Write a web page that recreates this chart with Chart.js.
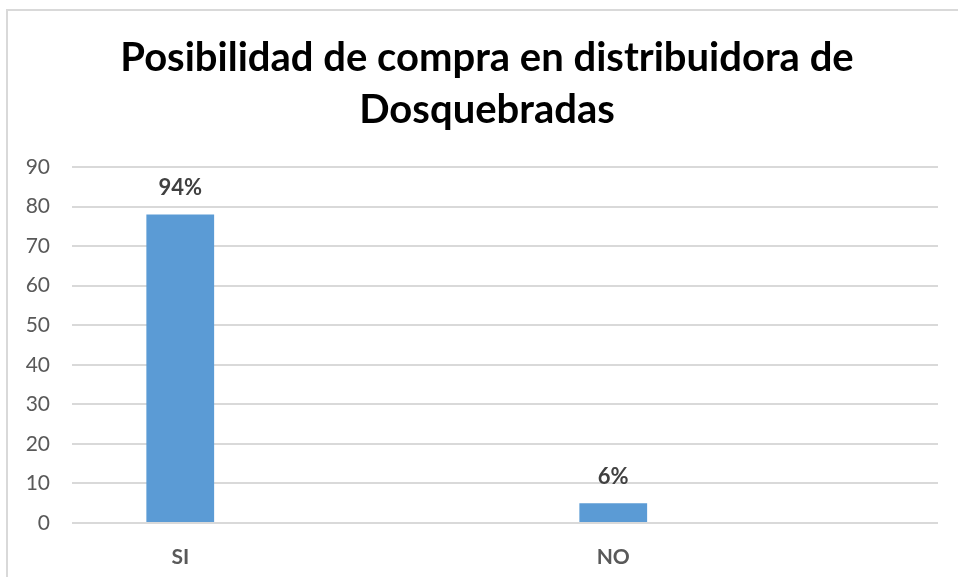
<!DOCTYPE html>
<html>
<head>
<meta charset="utf-8">
<script src="https://cdn.jsdelivr.net/npm/chart.js@4/dist/chart.umd.min.js"></script>
<style>
  html, body { margin: 0; padding: 0; background: #fff; }
  #wrap { width: 958px; height: 577px; position: relative; }
</style>
</head>
<body>
<div id="wrap"><canvas id="c" width="958" height="577"></canvas></div>
<script>
const categories = ["SI", "", "NO", ""];
const values = [78, null, 5, null];
const valueLabels = ["94%", "", "6%", ""];
const yTicks = [0, 10, 20, 30, 40, 50, 60, 70, 80, 90];
const titleLines = ["Posibilidad de compra en distribuidora de", "Dosquebradas"];

const FONT = 'Lato, "Open Sans", sans-serif';

const borderPlugin = {
  id: 'outerBorder',
  beforeDraw(chart) {
    const ctx = chart.ctx;
    ctx.save();
    ctx.fillStyle = '#ffffff';
    ctx.fillRect(0, 0, chart.width, chart.height);
    ctx.strokeStyle = '#d9d9d9';
    ctx.lineWidth = 2;
    ctx.beginPath();
    ctx.moveTo(7, chart.height);
    ctx.lineTo(7, 10);
    ctx.lineTo(chart.width, 10);
    ctx.stroke();
    ctx.restore();
  }
};

const titlePlugin = {
  id: 'customTitle',
  afterDraw(chart) {
    const ctx = chart.ctx;
    ctx.save();
    ctx.font = 'bold 40px ' + FONT;
    ctx.fillStyle = '#000000';
    ctx.textAlign = 'center';
    ctx.textBaseline = 'middle';
    const cx = 487;
    const ys = [58, 110];
    titleLines.forEach((t, i) => ctx.fillText(t, cx, ys[i]));
    ctx.restore();
  }
};

const labelPlugin = {
  id: 'barLabels',
  afterDatasetsDraw(chart) {
    const ctx = chart.ctx;
    const meta = chart.getDatasetMeta(0);
    ctx.save();
    ctx.font = 'bold 22px ' + FONT;
    ctx.fillStyle = '#404040';
    ctx.textAlign = 'center';
    ctx.textBaseline = 'alphabetic';
    meta.data.forEach((bar, i) => {
      if (values[i] == null || !valueLabels[i]) return;
      ctx.fillText(valueLabels[i], bar.x, bar.y - 19);
    });
    ctx.restore();
  }
};

new Chart(document.getElementById('c'), {
  type: 'bar',
  data: {
    labels: categories,
    datasets: [{
      data: values,
      backgroundColor: '#5b9bd5',
      borderWidth: 0,
      categoryPercentage: 1.0,
      barPercentage: 0.313
    }]
  },
  options: {
    responsive: false,
    animation: false,
    layout: { padding: { left: 0, right: 20, top: 167, bottom: 0 } },
    plugins: {
      legend: { display: false },
      tooltip: { enabled: false },
      title: { display: false }
    },
    scales: {
      x: {
        grid: { display: false },
        border: { display: false },
        ticks: {
          color: '#595959',
          font: { family: FONT, size: 21, weight: 'bold' },
          padding: 14
        },
        afterFit(scale) { scale.height = 54; }
      },
      y: {
        min: 0,
        max: 90,
        afterBuildTicks(scale) { scale.ticks = yTicks.map(v => ({ value: v })); },
        grid: { color: '#d9d9d9', lineWidth: 2, drawTicks: false },
        border: { display: false },
        ticks: {
          color: '#595959',
          font: { family: FONT, size: 21 },
          padding: 22
        },
        afterFit(scale) { scale.width = 72; }
      }
    }
  },
  plugins: [borderPlugin, titlePlugin, labelPlugin]
});
</script>
</body>
</html>
